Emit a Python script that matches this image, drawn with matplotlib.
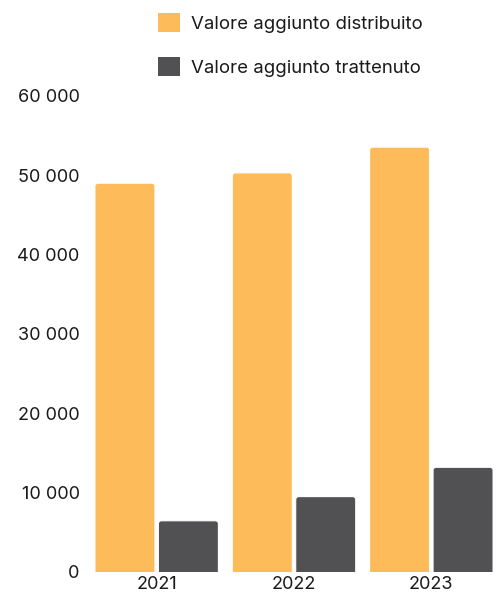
import matplotlib
matplotlib.use("Agg")
import matplotlib.pyplot as plt
from matplotlib.patches import FancyBboxPatch, Patch
from matplotlib.ticker import FuncFormatter
import numpy as np

years = ["2021", "2022", "2023"]
distribuito = [49000, 50300, 53550]
trattenuto = [6400, 9450, 13150]
series_names = ["Valore aggiunto distribuito", "Valore aggiunto trattenuto"]
colors = ["#FDBB5A", "#515153"]
yticks = [0, 10000, 20000, 30000, 40000, 50000, 60000]

plt.rcParams['font.family'] = ['Inter', 'DejaVu Sans']

W, H = 498, 594
fig = plt.figure(figsize=(W / 100, H / 100), dpi=100)
ax_left, ax_right = 88, 500
ax_bottom, ax_top = 571.5, 96
ax = fig.add_axes([ax_left / W, (H - ax_bottom) / H, (ax_right - ax_left) / W, (ax_bottom - ax_top) / H])

x = np.arange(len(years))
bw = 0.437
off = 0.231
for vals, sign, c in [(distribuito, -1, colors[0]), (trattenuto, 1, colors[1])]:
    bars = ax.bar(x + sign * off, vals, bw, color=c)
    for r in bars:
        bx, by, w, h = r.get_x(), r.get_y(), r.get_width(), r.get_height()
        r.remove()
        px_x = 3 / 137.4
        aspect = (10000 / 79.2) / (1 / 137.4)
        p = FancyBboxPatch((bx, by - 2000), w, h + 2000,
                           boxstyle=f"round,pad=0,rounding_size={px_x}",
                           mutation_aspect=aspect,
                           facecolor=c, edgecolor="white", linewidth=0.8)
        ax.add_patch(p)

ax.set_xlim(-0.5, 2.5)
ax.set_ylim(0, 60000)
ax.set_xticks(x)
ax.set_xticklabels(years)
ax.set_yticks(yticks)
ax.yaxis.set_major_formatter(FuncFormatter(lambda v, p: f"{int(v):,}".replace(",", " ")))
for s in ax.spines.values():
    s.set_visible(False)
ax.tick_params(axis='both', length=0, labelsize=13, labelcolor="#1a1a1a")
ax.tick_params(axis='y', pad=6)
ax.tick_params(axis='x', pad=3)

handles = [Patch(facecolor=colors[0], edgecolor="none"),
           Patch(facecolor=colors[1], edgecolor="none")]
leg = fig.legend(handles, series_names, loc="upper left",
                 bbox_to_anchor=(158 / W, 1 - 13 / H), frameon=False,
                 fontsize=13.4, handlelength=1.2, handleheight=1.2,
                 handletextpad=0.55, labelspacing=1.32, borderpad=0,
                 borderaxespad=0)
for t in leg.get_texts():
    t.set_color("#1a1a1a")

fig.savefig("out.png", dpi=100)
